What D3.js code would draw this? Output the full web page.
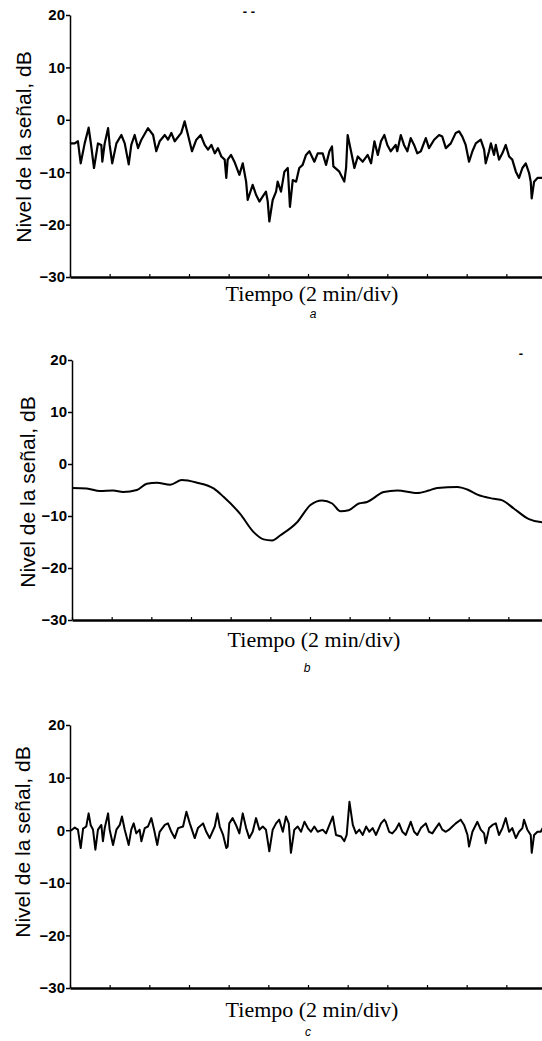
<!DOCTYPE html>
<html lang="es">
<head>
<meta charset="utf-8">
<title>Nivel de la señal</title>
<script src="https://d3js.org/d3.v7.min.js"></script>
<style>
    body { margin: 0; background: #fff; }
    svg { display: block; }
    .ylab { font-family: "Liberation Sans", Arial, sans-serif; font-size: 21px; }
    .xlab { font-family: "Liberation Serif", "Times New Roman", serif; font-size: 22px; }
    .tick text { font-family: "Liberation Sans", Arial, sans-serif; font-size: 15px; font-weight: bold; fill: #000; }
    .sub { font-family: "Liberation Sans", Arial, sans-serif; font-size: 12px; font-style: italic; }
    .mark { font-family: "Liberation Sans", Arial, sans-serif; font-size: 13px; font-weight: bold; }
</style>
</head>
<body>
<svg id="chart" width="542" height="1041"></svg>
<script>
// time in minutes (2 min/div, 12 div), level in dB
const yTicks = [20, 10, 0, -10, -20, -30];
const xTicks = d3.range(0, 25, 2);
const xLabel = "Tiempo (2 min/div)";
const yLabel = "Nivel de la señal, dB";
const subLabels = ["a", "b", "c"];

// a: received signal
const seriesA = [
    [0.0, -4.6], [0.07, -4.5], [0.24, -4.5], [0.40, -4.1], [0.54, -8.3], [0.74, -4.5], [0.94, -1.5],
    [1.07, -5.0], [1.21, -9.2], [1.41, -4.5], [1.58, -4.8], [1.63, -8.0], [1.75, -4.5], [1.92, -1.6],
    [2.00, -4.8], [2.13, -8.3], [2.34, -4.5], [2.59, -2.9], [2.76, -4.5], [2.96, -8.5], [3.09, -4.8],
    [3.26, -2.9], [3.43, -5.4], [3.60, -3.8], [3.93, -1.6], [4.19, -2.9], [4.35, -6.0], [4.52, -4.1],
    [4.78, -2.9], [4.94, -3.8], [5.11, -2.5], [5.28, -4.1], [5.61, -2.5], [5.78, -0.3], [5.95, -2.9],
    [6.15, -6.0], [6.37, -3.8], [6.59, -2.9], [6.79, -4.8], [6.96, -5.7], [7.13, -4.8], [7.30, -6.4],
    [7.46, -5.4], [7.63, -7.0], [7.80, -7.6], [7.88, -11.1], [7.95, -7.6], [8.12, -6.7], [8.29, -8.0],
    [8.54, -10.5], [8.71, -8.3], [8.88, -11.8], [8.96, -15.3], [9.21, -12.4], [9.38, -14.3], [9.55, -15.6],
    [9.72, -14.6], [9.88, -13.7], [9.97, -15.6], [10.05, -19.4], [10.22, -15.3], [10.39, -13.7], [10.47, -11.8],
    [10.64, -13.7], [10.81, -9.9], [10.98, -9.2], [11.09, -16.6], [11.23, -11.5], [11.40, -11.8], [11.56, -9.2],
    [11.73, -8.6], [11.90, -6.7], [12.07, -6.0], [12.32, -8.0], [12.49, -6.4], [12.74, -6.4], [12.91, -8.6],
    [13.08, -6.0], [13.21, -5.1], [13.28, -8.9], [13.58, -9.9], [13.83, -11.8], [13.92, -9.2], [14.00, -2.9],
    [14.17, -6.0], [14.34, -9.2], [14.51, -7.0], [14.76, -8.0], [15.01, -6.7], [15.18, -8.3], [15.35, -4.1],
    [15.52, -6.7], [15.68, -4.1], [15.85, -2.9], [16.00, -4.8], [16.17, -6.0], [16.42, -4.8], [16.50, -6.0],
    [16.68, -2.9], [16.84, -4.8], [17.01, -6.0], [17.18, -3.5], [17.35, -4.8], [17.51, -6.4], [17.69, -6.0],
    [17.94, -3.5], [18.10, -5.4], [18.36, -3.8], [18.61, -2.9], [18.77, -3.2], [18.95, -5.4], [19.20, -4.5],
    [19.45, -2.5], [19.62, -2.2], [19.78, -3.2], [19.95, -4.8], [20.12, -8.0], [20.29, -6.0], [20.46, -4.5],
    [20.71, -3.8], [20.88, -5.7], [20.96, -8.3], [21.13, -6.0], [21.22, -4.5], [21.38, -6.7], [21.47, -4.8],
    [21.63, -7.6], [21.80, -6.4], [21.97, -4.8], [22.14, -7.0], [22.30, -7.6], [22.48, -9.9], [22.64, -11.1],
    [22.81, -9.2], [22.98, -8.3], [23.15, -10.2], [23.23, -11.8], [23.28, -15.0], [23.40, -11.8], [23.57, -11.1],
    [23.73, -11.1], [24.0, -11.0]
];

// b: slow fading component
const seriesB = [
    [0.0, -4.6], [0.74, -4.7], [1.41, -5.2], [2.07, -5.1], [2.58, -5.4], [3.27, -5.0], [3.77, -3.8],
    [4.28, -3.6], [4.95, -4.0], [5.54, -3.1], [6.30, -3.6], [7.14, -4.7], [7.64, -6.3], [8.48, -9.6],
    [9.16, -13.1], [9.66, -14.5], [10.09, -14.7], [10.51, -13.7], [11.35, -11.2], [12.02, -7.9], [12.61, -7.0],
    [13.12, -7.6], [13.54, -9.1], [13.95, -8.9], [14.46, -7.6], [14.88, -7.3], [15.72, -5.4], [16.40, -5.1],
    [17.41, -5.6], [17.99, -5.1], [18.42, -4.6], [19.43, -4.4], [19.93, -4.9], [20.44, -5.9], [21.28, -6.7],
    [21.70, -7.0], [22.29, -8.6], [23.04, -10.6], [23.74, -11.2], [24.0, -11.2]
];

// c: fast fading component
const seriesC = [
    [0.0, 0.0], [0.07, 0.0], [0.24, 0.5], [0.40, 0.1], [0.54, -3.4], [0.66, 0.3], [0.82, 0.7], [0.94, 3.2],
    [1.04, 1.0], [1.16, 0.1], [1.28, -3.7], [1.41, 0.1], [1.58, 1.0], [1.66, -2.1], [1.75, 0.4], [1.92, 3.2],
    [2.00, 0.1], [2.17, -2.8], [2.34, 0.1], [2.51, 1.0], [2.62, 2.6], [2.76, 0.1], [2.96, -2.8], [3.09, 0.1],
    [3.21, 1.3], [3.34, -0.6], [3.51, 0.1], [3.60, -2.1], [3.77, 0.4], [3.93, 0.7], [4.10, 2.3], [4.24, 0.1],
    [4.40, -2.8], [4.52, -0.3], [4.78, 1.0], [4.94, 1.3], [5.11, -0.3], [5.28, -1.5], [5.45, 0.4], [5.70, 0.7],
    [5.87, 3.5], [6.04, 1.3], [6.29, -1.5], [6.45, 0.4], [6.71, 1.3], [6.87, -0.3], [7.04, -1.5], [7.30, 0.7],
    [7.43, 3.2], [7.55, 0.7], [7.72, -0.9], [7.88, -3.4], [7.95, -3.1], [8.03, 1.3], [8.20, 2.3], [8.37, 1.0],
    [8.54, -0.6], [8.71, 3.2], [8.88, 0.4], [9.04, -1.5], [9.21, -0.3], [9.38, 2.3], [9.55, 0.1], [9.72, 0.7],
    [9.88, 0.1], [10.05, -4.0], [10.22, 0.1], [10.39, 1.3], [10.55, 2.0], [10.73, -0.3], [10.89, 2.6], [11.03, 1.3],
    [11.14, -4.3], [11.31, 0.1], [11.48, 0.7], [11.65, -0.3], [11.82, 1.6], [11.99, 0.4], [12.15, -0.3], [12.32, 0.7],
    [12.49, -0.3], [12.74, 0.1], [12.91, -0.6], [13.08, 1.0], [13.25, 2.6], [13.41, -0.9], [13.67, -1.2], [13.83, -2.1],
    [13.95, -0.9], [14.09, 5.4], [14.26, 1.0], [14.42, -0.6], [14.59, 0.1], [14.76, -0.9], [14.93, 0.7], [15.09, -0.3],
    [15.26, 0.4], [15.43, -0.9], [15.68, 1.3], [15.85, 2.0], [15.92, 1.6], [16.09, -0.3], [16.25, -0.6], [16.42, 0.1],
    [16.59, 1.3], [16.76, -0.3], [16.93, -0.9], [17.18, 1.6], [17.35, -0.3], [17.51, -0.9], [17.69, 0.4], [17.94, 1.3],
    [18.10, -0.3], [18.27, -0.6], [18.44, 0.4], [18.61, 1.3], [18.77, 0.1], [18.95, -0.3], [19.11, 0.1], [19.28, 0.7],
    [19.45, 1.3], [19.70, 2.0], [19.87, 1.0], [20.04, -0.9], [20.12, -3.1], [20.29, -0.3], [20.54, 1.6], [20.71, 0.1],
    [20.88, -0.6], [20.96, -2.5], [21.13, 0.4], [21.30, 1.0], [21.47, 1.3], [21.63, -0.9], [21.80, 0.4], [21.97, 2.3],
    [22.14, -0.3], [22.30, 0.4], [22.48, -1.5], [22.64, -0.3], [22.81, 0.4], [22.89, 2.0], [23.06, 0.1], [23.23, -0.9],
    [23.28, -4.3], [23.40, -0.9], [23.57, -0.3], [23.73, -0.3], [24.0, 1.5]
];

const svg = d3.select("#chart");

// layout of the three stacked panels
const panels = [
    { data: seriesA, left: 70, top: 15, bottom: 277, curve: d3.curveLinear, sw: 2.2,
      ylx: 31, yly: 147, xly: 301, sub: [313, 318] },
    { data: seriesB, left: 72, top: 360, bottom: 620, curve: d3.curveMonotoneX, sw: 2,
      ylx: 35, yly: 492, xly: 647, sub: [307, 672] },
    { data: seriesC, left: 70, top: 725, bottom: 988, curve: d3.curveLinear, sw: 2,
      ylx: 30, yly: 842, xly: 1017, sub: [308, 1036] }
];
const plotW = 476;

panels.forEach((p, i) => {
    const x = d3.scaleLinear().domain([0, 24]).range([p.left, p.left + plotW]);
    const y = d3.scaleLinear().domain([-30, 20]).range([p.bottom, p.top]);
    const g = svg.append("g");

    // y axis, ticks outward
    const ya = g.append("g")
        .attr("transform", `translate(${p.left},0)`)
        .call(d3.axisLeft(y).tickValues(yTicks).tickSize(4).tickSizeOuter(0).tickPadding(1));
    ya.select(".domain").attr("stroke-width", 1.5);
    ya.selectAll(".tick line").attr("stroke-width", 1.5);

    // x axis, small ticks pointing up, no labels
    const xa = g.append("g")
        .attr("transform", `translate(0,${p.bottom})`)
        .call(d3.axisBottom(x).tickValues(xTicks).tickSize(-3).tickSizeOuter(0).tickFormat(""));
    xa.select(".domain").attr("stroke-width", 2.5);
    xa.selectAll(".tick line").attr("stroke-width", 1.2);

    const line = d3.line()
        .x(d => x(d[0]))
        .y(d => y(d[1]))
        .curve(p.curve);

    g.append("path")
        .datum(p.data)
        .attr("fill", "none")
        .attr("stroke", "#000")
        .attr("stroke-width", p.sw)
        .attr("stroke-linejoin", "round")
        .attr("d", line);

    g.append("text")
        .attr("class", "ylab")
        .attr("transform", `translate(${p.ylx},${p.yly}) rotate(-90)`)
        .attr("text-anchor", "middle")
        .text(yLabel);

    g.append("text")
        .attr("class", "xlab")
        .attr("x", (x.range()[0] + x.range()[1]) / 2 + 4)
        .attr("y", p.xly)
        .attr("text-anchor", "middle")
        .text(xLabel);

    g.append("text")
        .attr("class", "sub")
        .attr("x", p.sub[0])
        .attr("y", p.sub[1])
        .attr("text-anchor", "middle")
        .text(subLabels[i]);
});

// stray marks of the scanned page
svg.append("text").attr("class", "mark").attr("x", 249).attr("y", 16)
    .attr("text-anchor", "middle").text("- -");
svg.append("text").attr("class", "mark").attr("x", 521).attr("y", 358)
    .attr("text-anchor", "middle").text("-");
</script>
</body>
</html>
